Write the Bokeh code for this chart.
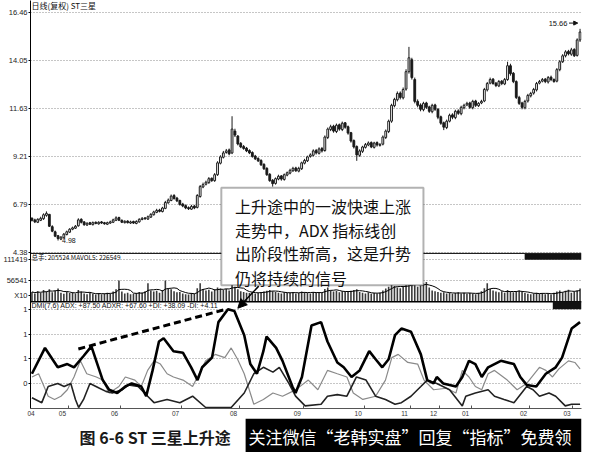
import pandas as pd
from bokeh.plotting import figure
from bokeh.models import (Range1d, FixedTicker, Grid, Span, BoxAnnotation, Label,
                          Arrow, NormalHead, ColumnDataSource)
from bokeh.layouts import column
from bokeh.embed import file_html
from bokeh.resources import INLINE

# ------------------------------------------------------------------ data
opens = [
    6.10, 6.02, 5.90, 6.00, 6.08, 6.25, 6.30, 5.68, 5.42, 5.22,
    5.05, 5.12, 5.28, 5.40, 5.55, 5.60, 5.72, 6.05, 5.92, 5.76,
    5.88, 5.78, 5.90, 5.82, 5.92, 5.88, 5.80, 5.86, 5.90, 6.00,
    6.14, 6.00, 5.88, 5.96, 5.86, 5.94, 5.84, 5.92, 6.04, 6.12,
    6.06, 6.16, 6.28, 6.40, 6.52, 6.44, 6.60, 6.88, 7.00, 7.25,
    7.12, 7.00, 6.82, 6.74, 6.64, 6.56, 6.72, 6.65, 7.20, 7.68,
    7.82, 7.90, 8.12, 8.00, 8.30, 8.88, 9.18, 9.42, 9.55, 9.40,
    10.50, 10.25, 9.88, 9.72, 9.64, 9.52, 9.42, 9.24, 9.12, 9.02,
    8.82, 8.62, 8.32, 8.02, 7.86, 8.08, 8.24, 8.06, 8.28, 8.38,
    8.50, 8.64, 8.48, 8.60, 8.88, 9.00, 9.22, 9.28, 9.52, 9.38,
    9.62, 9.52, 10.18, 10.58, 10.75, 10.48, 10.82, 10.58, 10.92, 10.72,
    10.42, 10.02, 9.72, 9.28, 9.48, 9.68, 9.80, 9.92, 9.68, 9.92,
    9.78, 9.84, 10.18, 10.48, 11.00, 11.78, 12.08, 12.42, 12.18, 12.62,
    13.50, 14.10, 13.10, 12.00, 11.82, 11.58, 11.92, 11.72, 11.48, 11.82,
    11.60, 11.22, 10.92, 10.68, 11.00, 11.32, 11.18, 11.52, 11.38, 11.68,
    11.82, 11.92, 11.68, 12.02, 11.78, 11.92, 12.02, 12.58, 12.92, 13.12,
    12.92, 12.78, 13.02, 12.88, 13.10, 13.80, 13.42, 13.00, 12.20, 11.92,
    11.68, 12.02, 12.28, 12.42, 12.58, 12.92, 13.02, 13.12, 12.98, 13.22,
    13.10, 13.02, 13.60, 14.00, 14.30, 14.52, 14.38, 14.62, 14.32, 15.10]
highs = [
    6.15, 6.08, 6.10, 6.18, 6.35, 6.45, 6.32, 5.75, 5.48, 5.26,
    5.20, 5.36, 5.48, 5.60, 5.68, 5.76, 6.10, 6.10, 5.96, 5.90,
    5.92, 5.94, 5.94, 5.95, 5.96, 5.92, 5.93, 5.98, 6.08, 6.20,
    6.18, 6.04, 6.00, 6.00, 5.98, 5.98, 6.00, 6.10, 6.16, 6.16,
    6.24, 6.36, 6.48, 6.58, 6.58, 6.68, 6.98, 7.10, 7.30, 7.32,
    7.18, 7.04, 6.88, 6.80, 6.70, 6.78, 6.78, 7.32, 7.78, 7.90,
    8.00, 8.18, 8.16, 8.38, 8.98, 9.28, 9.50, 9.60, 9.62, 11.25,
    10.62, 10.30, 9.95, 9.80, 9.70, 9.58, 9.48, 9.30, 9.18, 9.08,
    8.88, 8.68, 8.38, 8.08, 8.16, 8.30, 8.28, 8.36, 8.46, 8.60,
    8.70, 8.70, 8.70, 8.96, 9.10, 9.26, 9.38, 9.58, 9.60, 9.68,
    9.70, 10.28, 10.68, 10.82, 10.82, 10.88, 10.88, 10.98, 10.96, 10.78,
    10.46, 10.08, 9.78, 9.58, 9.76, 9.90, 9.98, 9.98, 9.96, 9.98,
    9.90, 10.28, 10.58, 11.08, 11.88, 12.18, 12.50, 12.50, 12.70, 13.62,
    14.75, 14.20, 13.20, 12.10, 11.90, 11.98, 11.98, 11.78, 11.88, 11.88,
    11.66, 11.28, 10.98, 11.08, 11.38, 11.40, 11.58, 11.60, 11.78, 11.88,
    11.98, 11.98, 12.08, 12.08, 11.96, 12.08, 12.68, 12.98, 13.20, 13.18,
    12.98, 13.08, 13.08, 13.18, 14.00, 13.90, 13.48, 13.06, 12.28, 11.98,
    12.08, 12.38, 12.48, 12.68, 12.98, 13.08, 13.18, 13.18, 13.28, 13.30,
    13.16, 13.68, 14.08, 14.38, 14.58, 14.60, 14.70, 14.68, 15.18, 15.66]
lows = [
    5.94, 5.86, 5.86, 5.96, 6.02, 6.18, 5.66, 5.40, 5.15, 4.98,
    5.00, 5.08, 5.24, 5.36, 5.50, 5.56, 5.68, 5.84, 5.72, 5.72,
    5.76, 5.74, 5.80, 5.78, 5.82, 5.78, 5.76, 5.82, 5.86, 5.96,
    5.96, 5.86, 5.84, 5.84, 5.82, 5.82, 5.80, 5.88, 6.00, 6.02,
    6.02, 6.12, 6.24, 6.36, 6.40, 6.40, 6.56, 6.84, 6.96, 7.04,
    6.92, 6.74, 6.66, 6.56, 6.52, 6.52, 6.56, 6.60, 7.14, 7.62,
    7.76, 7.84, 7.94, 7.94, 8.24, 8.82, 9.12, 9.36, 9.28, 9.34,
    10.20, 9.78, 9.64, 9.56, 9.44, 9.34, 9.16, 9.04, 8.94, 8.74,
    8.54, 8.24, 7.94, 7.70, 7.80, 8.02, 8.00, 8.00, 8.22, 8.32,
    8.44, 8.44, 8.42, 8.54, 8.82, 8.94, 9.16, 9.22, 9.32, 9.32,
    9.42, 9.46, 10.10, 10.50, 10.42, 10.40, 10.52, 10.50, 10.62, 10.32,
    9.92, 9.62, 9.00, 9.20, 9.40, 9.62, 9.74, 9.64, 9.62, 9.72,
    9.72, 9.78, 10.10, 10.40, 10.92, 11.70, 12.00, 12.10, 12.10, 12.54,
    13.40, 13.10, 11.90, 11.70, 11.50, 11.50, 11.62, 11.42, 11.40, 11.52,
    11.10, 10.82, 10.55, 10.60, 10.94, 11.10, 11.10, 11.32, 11.30, 11.60,
    11.76, 11.62, 11.60, 11.72, 11.72, 11.86, 11.96, 12.50, 12.86, 12.84,
    12.72, 12.72, 12.82, 12.82, 13.04, 13.30, 12.92, 12.12, 11.82, 11.60,
    11.60, 11.94, 12.20, 12.34, 12.50, 12.86, 12.96, 12.92, 12.90, 13.02,
    12.94, 12.96, 13.52, 13.94, 14.22, 14.32, 14.30, 14.24, 14.26, 15.00]
closes = [
    6.00, 5.92, 6.05, 6.10, 6.28, 6.35, 5.70, 5.45, 5.20, 5.08,
    5.15, 5.30, 5.42, 5.55, 5.62, 5.70, 6.02, 5.90, 5.78, 5.85,
    5.80, 5.88, 5.84, 5.90, 5.86, 5.82, 5.88, 5.92, 6.02, 6.12,
    6.00, 5.90, 5.95, 5.88, 5.92, 5.86, 5.94, 6.05, 6.10, 6.08,
    6.18, 6.30, 6.42, 6.50, 6.45, 6.62, 6.90, 7.02, 7.22, 7.10,
    6.98, 6.80, 6.72, 6.62, 6.58, 6.70, 6.62, 7.25, 7.70, 7.80,
    7.92, 8.10, 8.00, 8.30, 8.90, 9.20, 9.40, 9.50, 9.35, 10.60,
    10.30, 9.85, 9.70, 9.62, 9.50, 9.40, 9.22, 9.10, 9.00, 8.80,
    8.60, 8.30, 8.00, 7.85, 8.10, 8.22, 8.08, 8.30, 8.40, 8.52,
    8.62, 8.50, 8.62, 8.90, 9.02, 9.20, 9.30, 9.50, 9.40, 9.60,
    9.50, 10.20, 10.60, 10.72, 10.50, 10.80, 10.60, 10.90, 10.70, 10.40,
    10.00, 9.70, 9.30, 9.50, 9.70, 9.82, 9.90, 9.70, 9.90, 9.80,
    9.82, 10.20, 10.50, 11.00, 11.80, 12.10, 12.40, 12.20, 12.60, 13.50,
    14.20, 13.20, 12.00, 11.80, 11.60, 11.90, 11.70, 11.50, 11.80, 11.60,
    11.20, 10.90, 10.70, 11.00, 11.30, 11.20, 11.50, 11.40, 11.70, 11.80,
    11.90, 11.70, 12.00, 11.80, 11.90, 12.00, 12.60, 12.90, 13.10, 12.90,
    12.80, 13.00, 12.90, 13.10, 13.80, 13.40, 13.00, 12.20, 11.90, 11.70,
    12.00, 12.30, 12.40, 12.60, 12.90, 13.00, 13.10, 13.00, 13.20, 13.10,
    13.00, 13.60, 14.00, 14.30, 14.50, 14.40, 14.60, 14.30, 15.10, 15.50]
volumes = [
    26000, 22000, 28000, 24000, 31000, 27000, 33000, 25000, 29000, 35000,
    24000, 21000, 26000, 23000, 25000, 22000, 31000, 27000, 22000, 20000,
    24000, 21000, 19000, 23000, 20000, 22000, 24000, 21000, 27000, 33000,
    56000, 27000, 22000, 24000, 20000, 21000, 23000, 26000, 24000, 28000,
    49000, 30000, 27000, 29000, 24000, 31000, 56000, 35000, 33000, 28000,
    25000, 26000, 22000, 20000, 19000, 23000, 21000, 36000, 49000, 34000,
    30000, 32000, 27000, 33000, 38000, 35000, 31000, 34000, 30000, 52000,
    40000, 33000, 28000, 26000, 24000, 23000, 25000, 22000, 24000, 26000,
    27000, 29000, 31000, 28000, 26000, 24000, 22000, 25000, 23000, 24000,
    26000, 22000, 23000, 27000, 25000, 24000, 22000, 26000, 24000, 25000,
    23000, 34000, 38000, 30000, 27000, 29000, 25000, 28000, 26000, 27000,
    29000, 31000, 33000, 26000, 24000, 22000, 25000, 21000, 23000, 22000,
    24000, 30000, 35000, 40000, 45000, 42000, 38000, 36000, 41000, 46000,
    50000, 44000, 47000, 40000, 43000, 48000, 52000, 38000, 30000, 28000,
    26000, 24000, 25000, 22000, 24000, 21000, 23000, 25000, 22000, 24000,
    21000, 23000, 22000, 20000, 24000, 28000, 36000, 49000, 34000, 30000,
    27000, 25000, 28000, 24000, 31000, 27000, 25000, 28000, 30000, 26000,
    23000, 21000, 20000, 22000, 24000, 21000, 23000, 20000, 22000, 19000,
    24000, 27000, 30000, 25000, 29000, 32000, 24000, 27000, 30000, 35000]

# DMI(7,6) lines (bar index, value)
adx_x = [0, 4.5, 8.9, 12.2, 14.5, 17.8, 20.5, 24.4, 26.6, 29.4,
         32.2, 34.4, 37.7, 39.4, 41.6, 43.8, 45.4, 48.8, 52.1, 54.9,
         57.1, 58.7, 62.1, 64.3, 67.6, 69.8, 73.2, 75.3, 77.6, 79.8,
         80.9, 84.2, 86.4, 89.8, 90.9, 93.1, 96.4, 99.7, 101.9, 105.3,
         107.5, 110.2, 113.0, 116.3, 118.5, 120.8, 123.0, 125.2, 127.4, 130.7,
         134.1, 136.3, 138.5, 139.6, 141.8, 146.2, 148.4, 150.7, 152.9, 155.1,
         157.3, 161.7, 166.2, 168.4, 170.6, 173.9, 177.2, 180.6, 182.8, 186.1, 189]
adx_v = [28.0, 48.8, 33.2, 35.8, 33.2, 42.3, 50.1, 22.9, 15.1, 12.5,
         17.7, 20.2, 17.7, 9.9, 30.7, 54.0, 56.6, 46.2, 44.9, 33.2,
         22.9, 33.2, 41.0, 69.6, 79.9, 78.6, 59.1, 35.8, 28.0, 46.2,
         57.9, 48.8, 38.4, 17.7, 12.5, 25.4, 66.9, 69.6, 54.0, 37.1,
         33.2, 25.4, 30.7, 46.2, 39.7, 33.2, 39.7, 59.1, 64.4, 61.8,
         43.6, 22.9, 20.2, 25.4, 20.2, 17.7, 25.4, 38.4, 35.8, 25.4,
         33.2, 38.4, 35.8, 25.4, 19.0, 17.7, 28.0, 33.2, 41.0, 64.4, 69.6]
pdi_x = [0, 2.3, 5.6, 7.8, 10.0, 12.2, 14.5, 16.7, 18.9, 22.2,
         24.4, 26.6, 30.0, 32.2, 35.5, 37.7, 39.9, 42.1, 44.3, 46.6,
         48.8, 52.1, 55.4, 59.9, 63.2, 66.5, 68.7, 70.9, 73.2, 76.5,
         79.8, 83.1, 86.4, 90.9, 95.3, 98.6, 101.9, 105.3, 108.6, 110.8,
         114.1, 118.5, 121.9, 124.1, 126.3, 129.6, 133.0, 135.2, 138.5, 142.9,
         146.2, 148.4, 150.7, 152.9, 155.1, 157.3, 159.5, 163.9, 167.3, 170.6,
         175.0, 177.2, 179.5, 181.7, 185.0, 187.2, 189]
pdi_v = [25.4, 28.0, 9.9, 7.3, 9.9, 15.1, 25.4, 38.4, 28.0, 25.4,
         22.9, 12.5, 17.7, 25.4, 22.9, 17.7, 30.7, 38.4, 35.8, 28.0,
         25.4, 22.9, 17.7, 38.4, 43.6, 41.0, 48.8, 39.7, 28.0, 3.4,
         7.3, 12.5, 9.9, 15.0, 22.9, 15.1, 30.7, 28.0, 25.4, 12.5,
         7.3, 9.9, 22.9, 41.0, 43.6, 37.1, 35.8, 22.9, 15.1, 16.3,
         12.5, 30.7, 25.4, 17.7, 15.1, 28.0, 30.7, 22.9, 15.1, 20.2,
         33.2, 30.7, 25.4, 31.9, 38.4, 37.1, 31.9]
mdi_x = [0, 3.4, 5.6, 8.9, 11.1, 13.4, 15.0, 16.1, 17.8, 20.0,
         23.3, 25.5, 27.7, 31.1, 33.3, 36.6, 39.9, 42.1, 46.6, 51.0,
         55.4, 59.9, 68.7, 73.2, 76.5, 79.8, 83.1, 85.3, 88.6, 90.9,
         94.2, 99.7, 101.9, 105.3, 108.6, 111.9, 115.2, 118.5, 121.9, 125.2,
         127.4, 130.7, 134.1, 136.3, 139.6, 144.0, 148.4, 149.6, 152.9, 157.3,
         159.5, 162.8, 166.2, 170.6, 172.8, 175.0, 178.3, 180.6, 183.9, 186.1, 189]
mdi_v = [8.6, 4.7, 17.7, 20.2, 17.7, 20.2, 7.3, 0.8, 7.3, 20.2,
         16.3, 13.8, 12.5, 15.1, 19.0, 17.7, 9.9, 4.7, 7.3, 4.7,
         9.9, 0.8, 0.8, 12.5, 28.0, 33.2, 29.3, 33.2, 20.2, 10.0,
         2.1, 3.4, 9.9, 11.2, 9.9, 25.4, 22.9, 9.9, 7.3, 3.4,
         4.7, 9.9, 17.7, 22.9, 20.2, 15.1, 2.1, 9.9, 12.5, 15.1,
         9.9, 7.3, 4.7, 17.7, 15.1, 9.9, 12.5, 9.9, 2.1, 3.4, 3.4]
# dashed trend line joining the two ADX highs
adx_trend_x = [16, 67]
adx_trend_v = [48.0, 80.0]

price_ticks = [4.38, 6.79, 9.21, 11.63, 14.05, 16.46]
vol_ticks = [56541, 111419]
vol_tick_labels = ["56541", "111419"]
vol_unit_level, vol_unit_label = 15400, "X10"
dmi_ticks = [20, 40, 60, 80]
dmi_tick_labels = ["0", "1", "1", "1"]
month_labels = ["04", "05", "06", "07", "08", "09", "10", "11", "12", "01", "02", "03"]
month_first_bar = [0, 13, 31, 52, 72, 94, 115, 131, 141, 152, 172, 187]

low_bar, low_value = 9, 4.98
high_bar, high_value = 189, 15.66

note_lines = ["上升途中的一波快速上涨",
              "走势中，ADX 指标线创",
              "出阶段性新高，这是升势",
              "仍将持续的信号"]

# ------------------------------------------------------------------ layout
PRICE_TOP, PRICE_BOT = 17.09, 4.33
VOL_TOP = 128500
DMI_TOP = 86.1
F1 = 262 / 422.7      # price / volume boundary (fraction of frame height)
F2 = 312 / 422.7      # volume / DMI boundary

def panel_range(v_top, v_bot, f_top, f_bot):
    k = (v_top - v_bot) / (f_bot - f_top)
    return Range1d(start=v_bot - (1 - f_bot) * k, end=v_top + f_top * k)

def frac_of(v, v_top, v_bot, f_top, f_bot):
    return f_top + (v_top - v) / (v_top - v_bot) * (f_bot - f_top)

def primary_at(f):
    # position of frame fraction f in the (price) units of the main y axis
    return PRICE_TOP - f * (PRICE_TOP - PRICE_BOT) / F1

SMALL = "Liberation Sans"
CJK = "Noto Sans CJK SC"
n = len(closes)
idx = list(range(n))

p = figure(width=584, height=418, x_range=Range1d(-0.5, n - 0.5),
           y_range=panel_range(PRICE_TOP, PRICE_BOT, 0.0, F1),
           output_backend="svg", toolbar_location=None,
           min_border_left=25, min_border_right=3, min_border_top=0, min_border_bottom=10,
           outline_line_color=None, background_fill_color="white", border_fill_color="white")
p.extra_y_ranges = {"vol": panel_range(VOL_TOP, 0, F1, F2),
                    "dmi": panel_range(DMI_TOP, 0, F2, 1.0)}

# left axis: price ticks plus the volume / DMI panel ticks placed at their panel heights
vol_pos = [primary_at(frac_of(v, VOL_TOP, 0, F1, F2)) for v in vol_ticks]
unit_pos = primary_at(frac_of(vol_unit_level, VOL_TOP, 0, F1, F2))
dmi_pos = [primary_at(frac_of(v, DMI_TOP, 0, F2, 1.0)) for v in dmi_ticks]
overrides = {t: f"{t:.2f}" for t in price_ticks}
overrides.update({pos: lab for pos, lab in zip(vol_pos, vol_tick_labels)})
overrides[unit_pos] = vol_unit_label
overrides.update({pos: lab for pos, lab in zip(dmi_pos, dmi_tick_labels)})

yax = p.yaxis[0]
yax.ticker = FixedTicker(ticks=price_ticks + vol_pos + [unit_pos] + dmi_pos)
yax.major_label_overrides = overrides
yax.major_label_text_font = SMALL
yax.major_label_text_font_size = "7.5px"
yax.major_label_text_color = "#222222"
yax.major_tick_out = 2
yax.major_tick_in = 0
yax.minor_tick_out = 0
yax.minor_tick_in = 0
yax.major_label_standoff = 1
yax.axis_line_color = "black"

label_pos = [max(b - 2.5, -0.3) for b in month_first_bar]
xax = p.xaxis[0]
xax.ticker = FixedTicker(ticks=label_pos, minor_ticks=[b - 0.5 for b in month_first_bar[1:]])
xax.major_label_overrides = {pos: lab for pos, lab in zip(label_pos, month_labels)}
xax.major_label_text_font = SMALL
xax.major_label_text_font_size = "6.5px"
xax.major_label_text_color = "#333333"
xax.major_tick_out = 0
xax.major_tick_in = 0
xax.minor_tick_in = 3
xax.minor_tick_out = 0
xax.minor_tick_line_color = "#555555"
xax.major_label_standoff = 2
xax.axis_line_color = "#555555"

# grids
p.xgrid.visible = False
p.ygrid[0].ticker = FixedTicker(ticks=price_ticks)
p.ygrid[0].grid_line_color = "#8c8c8c"
p.ygrid[0].grid_line_dash = "1 2"
p.add_layout(Grid(dimension=1, ticker=FixedTicker(ticks=vol_ticks), y_range_name="vol",
                  grid_line_color="#8c8c8c", grid_line_dash="1 2"))
p.add_layout(Grid(dimension=1, ticker=FixedTicker(ticks=dmi_ticks), y_range_name="dmi",
                  grid_line_color="#8c8c8c", grid_line_dash="1 2"))

# candles
inc = [c >= o for o, c in zip(opens, closes)]
def subset(mask):
    return ColumnDataSource(dict(
        x=[i for i, m in zip(idx, mask) if m],
        top=[max(o, c) for o, c, m in zip(opens, closes, mask) if m],
        bot=[min(o, c) for o, c, m in zip(opens, closes, mask) if m]))
p.segment(x0=idx, y0=lows, x1=idx, y1=highs, line_color="#1a1a1a", line_width=1)
p.vbar(x="x", top="top", bottom="bot", width=0.62, source=subset(inc),
       fill_color="white", line_color="#1a1a1a", line_width=1)
p.vbar(x="x", top="top", bottom="bot", width=0.62, source=subset([not m for m in inc]),
       fill_color="#1a1a1a", line_color="#1a1a1a", line_width=1)

# volume
mavol = pd.Series(volumes).rolling(5, min_periods=1).mean().tolist()
p.vbar(x=idx, top=volumes, bottom=0, width=0.55, y_range_name="vol",
       fill_color="#3a3a3a", line_color=None)
p.line(idx, mavol, y_range_name="vol", line_color="black", line_width=1)

# DMI
p.line(pdi_x, pdi_v, y_range_name="dmi", line_color="#8a8a8a", line_width=1.2)
p.line(mdi_x, mdi_v, y_range_name="dmi", line_color="#222222", line_width=1.6)
p.line(adx_x, adx_v, y_range_name="dmi", line_color="black", line_width=2.6)
p.line(adx_trend_x, adx_trend_v, y_range_name="dmi", line_color="black",
       line_width=3, line_dash="7 4")

# panel separators
p.add_layout(Span(location=PRICE_BOT, dimension="width", line_color="black", line_width=1))
p.add_layout(Span(location=0, dimension="width", y_range_name="vol",
                  line_color="black", line_width=1.5))

# small texts inside the frame
def lab(**kw):
    base = dict(text_font=SMALL, text_font_size="7px", text_color="#111111",
                text_baseline="middle")
    base.update(kw)
    p.add_layout(Label(**base))

lab(x=-0.5, y=16.85, x_offset=1, text="日线(复权)  ST三星", text_font=CJK, text_font_size="8px")
lab(x=low_bar, y=low_value, x_offset=4, text=f"{low_value:.2f}")
lab(x=-0.5, y=118200, y_range_name="vol", x_offset=1,
    text="总手: 205524  MAVOL5: 226549", text_font=CJK, text_font_size="6.5px")
lab(x=-0.5, y=82.6, y_range_name="dmi", x_offset=1,
    text="DMI(7,6) ADX: +87.50 ADXR: +67.60 +DI: +38.09  -DI: +4.11", text_font_size="7px")

# top-right marks
p.add_layout(BoxAnnotation(left=169.9, right=n - 0.5, top=127200, bottom=111800,
                           y_range_name="vol", fill_color="#111111", fill_alpha=1, line_color=None))
p.add_layout(BoxAnnotation(left=179.6, right=n - 0.5, top=86.5, bottom=80.0,
                           y_range_name="dmi", fill_color="#111111", fill_alpha=1, line_color=None))
lab(x=high_bar - 4, y=15.95, x_offset=-1, text=f"{high_value:.2f}", text_align="right",
    text_font_size="7.5px")
p.add_layout(Arrow(x_start=high_bar - 3.8, y_start=15.95, x_end=high_bar - 0.8, y_end=15.95,
                   line_width=1, line_color="#111111",
                   end=NormalHead(size=4, fill_color="#111111", line_color="#111111")))

# annotation box
p.add_layout(BoxAnnotation(left=65.3, right=135.0, top=7.64, bottom=2.72,
                           fill_color="white", fill_alpha=1,
                           line_color="black", line_width=2))
for yv, t in zip([6.72, 5.50, 4.33, 3.11], note_lines):
    p.add_layout(Label(x=70.0, y=yv, text=t, text_font=CJK, text_font_size="16px",
                       text_color="#111111", text_baseline="middle"))
p.add_layout(Arrow(x_start=78.2, y_start=98.6, x_end=71.0, y_end=80.8, y_range_name="dmi",
                   line_width=1.5, line_color="black",
                   end=NormalHead(size=9, fill_color="black", line_color="black")))

# ------------------------------------------------------------------ caption strip
c = figure(width=584, height=34, x_range=Range1d(0, 584), y_range=Range1d(0, 34),
           x_axis_type=None, y_axis_type=None, output_backend="svg", toolbar_location=None,
           min_border=0, min_border_left=0, min_border_right=0,
           outline_line_color=None, background_fill_color="white",
           border_fill_color="white")
for g in c.grid:
    g.visible = False
c.add_layout(BoxAnnotation(left=228, right=584, bottom=0, top=34,
                           fill_color="black", fill_alpha=1, line_color=None))
c.add_layout(Label(x=52, y=16, text="图 6-6  ST 三星上升途", text_font=CJK,
                   text_font_style="bold", text_font_size="16px", text_color="#1a1a1a",
                   text_baseline="middle"))
c.add_layout(Label(x=231, y=16, text="关注微信“老韩实盘”回复“指标”免费领", text_font=CJK,
                   text_font_size="17px", text_color="white", text_baseline="middle"))

layout = column(p, c, spacing=0)
open("out.html", "w").write(file_html(layout, INLINE))
